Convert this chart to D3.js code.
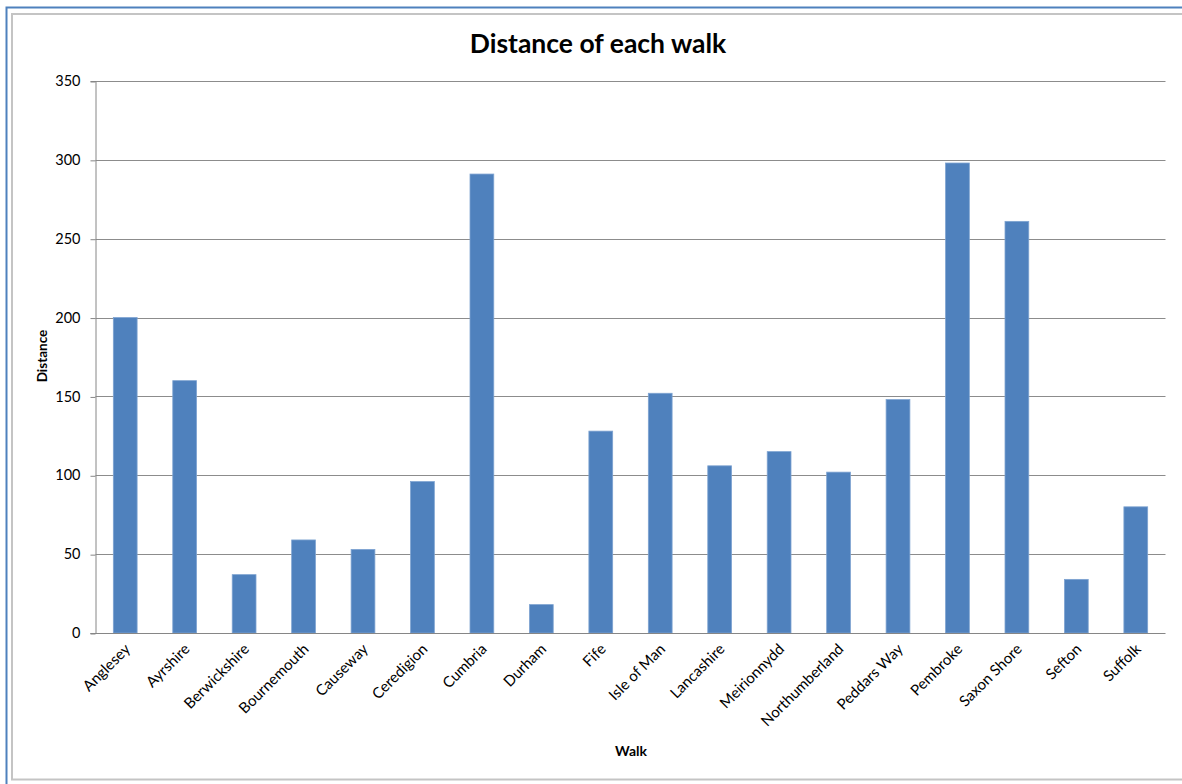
<!DOCTYPE html>
<html>
<head>
<meta charset="utf-8">
<script src="https://cdn.jsdelivr.net/npm/d3@7"></script>
<style>
  body { margin: 0; background: #fff; }
  svg { display: block; font-family: Lato, "Open Sans", sans-serif; }
</style>
</head>
<body>
<div id="chart-area"></div>
<script>
// walk names and distances
const walks = ["Anglesey", "Ayrshire", "Berwickshire", "Bournemouth", "Causeway", "Ceredigion",
	"Cumbria", "Durham", "Fife", "Isle of Man", "Lancashire", "Meirionnydd",
	"Northumberland", "Peddars Way", "Pembroke", "Saxon Shore", "Sefton", "Suffolk"]
const distances = [200, 160, 37, 59, 53, 96, 291, 18, 128, 152, 106, 115, 102, 148, 298, 261, 34, 80]
const yTicks = [0, 50, 100, 150, 200, 250, 300, 350]

const width = 1182, height = 784
const margin = { left: 95.5, right: 1165.5, top: 81, bottom: 633 }

const svg = d3.select("#chart-area").append("svg")
	.attr("width", width)
	.attr("height", height)

// outer frames (blue selection edge + grey chart border)
svg.append("rect")
	.attr("x", 6.5).attr("y", 7.5)
	.attr("width", 1200).attr("height", 800)
	.attr("fill", "none").attr("stroke", "#4f81bd").attr("stroke-width", 2)
svg.append("rect")
	.attr("x", 12).attr("y", 14)
	.attr("width", 1200).attr("height", 765.5)
	.attr("fill", "#fff").attr("stroke", "#c4c4c4").attr("stroke-width", 2)

const x = d3.scaleBand()
	.domain(walks)
	.range([margin.left, margin.right])
	.paddingInner(0.6)
	.paddingOuter(0.3)

const y = d3.scaleLinear()
	.domain([0, 350])
	.range([margin.bottom, margin.top])

// gridlines
svg.append("g")
	.selectAll("line")
	.data(yTicks.slice(1))
	.enter().append("line")
	.attr("x1", margin.left).attr("x2", margin.right)
	.attr("y1", d => Math.round(y(d)) + 0.5).attr("y2", d => Math.round(y(d)) + 0.5)
	.attr("stroke", "#8c8c8c")

// y axis
const yAxis = svg.append("g")
	.attr("transform", `translate(${margin.left},0)`)
	.call(d3.axisLeft(y).tickValues(yTicks).tickSize(5).tickPadding(10))
yAxis.select(".domain").attr("stroke", "#868686")
yAxis.selectAll(".tick line").attr("stroke", "#868686")
	.attr("transform", "translate(0,0.5)")
yAxis.selectAll("text")
	.attr("font-size", 14.5).attr("fill", "#000")
	.attr("font-family", "Lato, 'Open Sans', sans-serif")

// bars
svg.append("g")
	.selectAll("rect")
	.data(walks)
	.enter().append("rect")
	.attr("x", d => x(d))
	.attr("y", (d, i) => y(distances[i]))
	.attr("width", x.bandwidth())
	.attr("height", (d, i) => y(0) - y(distances[i]))
	.attr("fill", "#4f81bd")
	.attr("stroke", "#7ea3d1")
	.attr("stroke-width", 0.8)

// x axis line
svg.append("line")
	.attr("x1", margin.left - 5).attr("x2", margin.right)
	.attr("y1", margin.bottom + 0.5).attr("y2", margin.bottom + 0.5)
	.attr("stroke", "#868686")

// category labels, rotated 45 degrees
svg.append("g")
	.selectAll("text")
	.data(walks)
	.enter().append("text")
	.attr("transform", d => `translate(${x(d) + x.bandwidth() / 2 + 6},${margin.bottom + 17}) rotate(-45)`)
	.attr("text-anchor", "end")
	.attr("font-size", 15)
	.text(d => d)

// title and axis titles
svg.append("text")
	.attr("x", 598).attr("y", 53)
	.attr("text-anchor", "middle")
	.attr("font-size", 26.5).attr("font-weight", "bold")
	.text("Distance of each walk")

svg.append("text")
	.attr("transform", "translate(47,356) rotate(-90)")
	.attr("text-anchor", "middle")
	.attr("font-size", 13.5).attr("font-weight", "bold")
	.text("Distance")

svg.append("text")
	.attr("x", 631).attr("y", 756)
	.attr("text-anchor", "middle")
	.attr("font-size", 14).attr("font-weight", "bold")
	.text("Walk")
</script>
</body>
</html>
